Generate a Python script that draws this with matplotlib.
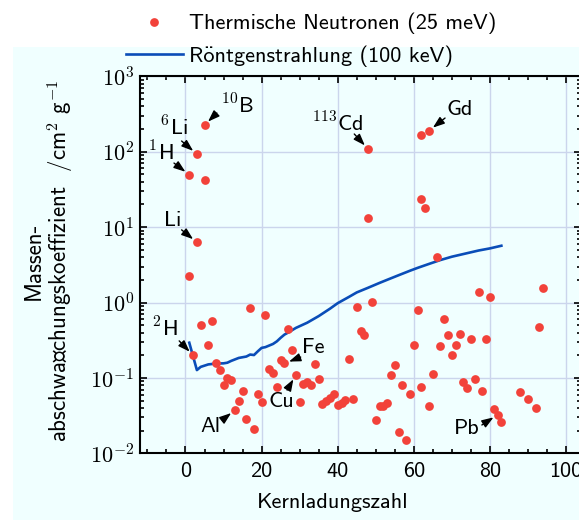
import numpy as np
import matplotlib
matplotlib.use("Agg")
import matplotlib.pyplot as plt
from matplotlib.patches import Rectangle
from matplotlib.ticker import FuncFormatter, LogLocator, MultipleLocator

plt.rcParams['font.family'] = ['cmss10', 'DejaVu Sans']
plt.rcParams['mathtext.fontset'] = 'cm'
plt.rcParams['axes.unicode_minus'] = False
plt.rcParams['axes.formatter.use_mathtext'] = True

# Thermal neutrons (25 meV): atomic number and mass attenuation coefficient (cm^2/g)
neutron_z = [1, 1, 2, 3, 3, 4, 5, 5, 6, 7, 8, 9, 10, 11, 12, 13, 14, 15, 16, 17,
             18, 19, 20, 21, 22, 23, 24, 25, 26, 27, 28, 29, 30, 31, 32, 33, 34,
             35, 36, 37, 38, 39, 40, 41, 42, 43, 44, 45, 46, 47, 48, 48, 49, 50,
             51, 52, 53, 54, 55, 56, 57, 58, 59, 60, 61, 62, 62, 62, 63, 64, 64,
             65, 66, 67, 68, 69, 70, 71, 72, 73, 74, 75, 76, 77, 78, 79, 80, 81,
             82, 83, 88, 90, 92, 93, 94]
neutron_mu = [49.5, 2.27, 0.20, 93.0, 6.3, 0.50, 226.0, 42.5, 0.275, 0.574, 0.158,
              0.126, 0.0805, 0.100, 0.093, 0.0375, 0.049, 0.067, 0.0288, 0.845,
              0.021, 0.0617, 0.048, 0.676, 0.132, 0.117, 0.076, 0.171, 0.156, 0.44,
              0.234, 0.109, 0.048, 0.082, 0.088, 0.0795, 0.151, 0.0957, 0.0455,
              0.0499, 0.0536, 0.0606, 0.0433, 0.0469, 0.0504, 0.178, 0.053, 0.863,
              0.415, 0.374, 108.6, 13.3, 1.03, 0.0277, 0.0428, 0.042, 0.0469, 0.108,
              0.147, 0.0192, 0.0798, 0.0151, 0.0606, 0.275, 0.788, 168.0, 23.6,
              0.075, 17.7, 190.0, 0.0425, 0.114, 3.98, 0.265, 0.598, 0.374, 0.201,
              0.273, 0.382, 0.0873, 0.074, 0.325, 0.0967, 1.38, 0.067, 0.325, 1.18,
              0.0383, 0.0325, 0.0258, 0.0656, 0.0525, 0.0398, 0.478, 1.54]

# X-rays (100 keV)
xray_z = [1, 3, 4, 6, 8, 10, 11, 12, 14, 16, 17, 18, 19, 20, 21, 23, 24, 25, 26,
          27, 29, 32, 35, 38, 40, 43, 45, 48, 51, 53, 56, 59, 61, 64, 67, 70, 74,
          77, 80, 83]
xray_mu = [0.293, 0.127, 0.140, 0.151, 0.155, 0.156, 0.159, 0.168, 0.184, 0.192,
           0.204, 0.201, 0.225, 0.250, 0.256, 0.282, 0.305, 0.34, 0.375, 0.40,
           0.46, 0.54, 0.66, 0.83, 0.98, 1.19, 1.36, 1.57, 1.82, 2.00, 2.30, 2.64,
           2.88, 3.25, 3.66, 4.05, 4.51, 4.89, 5.22, 5.66]

# Labelled nuclides: (text, Z, value, text offset [pt], arrow start offset [pt])
labels = [
    (r'$^{\mathsf{10}}$B', 5, 226.0, (24.0, 13.7), (8.9, 8.6)),
    (r'$^{\mathsf{6}}$Li', 3, 93.0, (-16.8, 19.4), (-11.0, 9.4)),
    (r'$^{\mathsf{1}}$H', 1, 49.5, (-20.4, 16.3), (-11.0, 8.4)),
    ('Li', 3, 6.3, (-17.1, 15.3), (-11.0, 8.9)),
    (r'$^{\mathsf{113}}$Cd', 48, 108.6, (-21.6, 18.0), (-10.0, 10.8)),
    ('Gd', 64, 190.0, (22.3, 14.9), (11.5, 9.1)),
    (r'$^{\mathsf{2}}$H', 2, 0.20, (-20.2, 18.9), (-10.0, 10.3)),
    ('Al', 13, 0.0375, (-17.8, -12.2), (-9.1, -7.2)),
    ('Cu', 29, 0.109, (-10.6, -18.7), (-6.3, -10.8)),
    ('Fe', 26, 0.156, (21.1, 11.7), (11.7, 4.5)),
    ('Pb', 82, 0.0325, (-22.1, -9.6), (-11.3, -7.4)),
]

# Umlauts written as base letter + combining diaeresis (the sans face lacks ä/ö)
A_UML = 'a\u0308'
O_UML = 'o\u0308'

W, H = 579, 522
fig = plt.figure(figsize=(W / 100, H / 100), dpi=100, facecolor='white')
fig.add_artist(Rectangle((13 / W, 2 / H), 1 - 13 / W, (H - 47 - 2) / H,
                         transform=fig.transFigure, facecolor='#f0ffff',
                         edgecolor='none', zorder=-5))

ax = fig.add_axes([139.8 / W, (H - 453.3) / H, (581.3 - 139.8) / W, (453.3 - 76.3) / H])
ax.set_facecolor('none')

ax.plot(neutron_z, neutron_mu, 'o', color='#f2423a', markersize=6.3,
        markeredgewidth=0, linestyle='none', label='Thermische Neutronen (25 meV)',
        zorder=3)
ax.plot(xray_z, xray_mu, '-', color='#0a4db8', linewidth=1.9,
        label='R' + O_UML + 'ntgenstrahlung (100 keV)', zorder=2)

ax.set_yscale('log')
ax.set_xlim(-12, 104)
ax.set_ylim(1e-2, 1e3)

ax.xaxis.set_major_locator(MultipleLocator(20))
ax.xaxis.set_minor_locator(MultipleLocator(5))
ax.yaxis.set_major_locator(LogLocator(base=10, numticks=10))
ax.yaxis.set_minor_locator(LogLocator(base=10, subs=np.arange(2, 10), numticks=20))
ax.yaxis.set_major_formatter(FuncFormatter(lambda v, p: r'$\mathsf{10^{%d}}$' % round(np.log10(v))))
ax.xaxis.set_major_formatter(FuncFormatter(lambda v, p: '%d' % v))

ax.grid(True, which='major', color='#cbd5ec', linewidth=1.0, zorder=0)
ax.set_axisbelow(True)
for s in ax.spines.values():
    s.set_linewidth(1.5)
ax.tick_params(which='both', direction='in', top=True, right=True, labelsize=16,
               width=1.2)
ax.tick_params(which='major', length=5)
ax.tick_params(which='minor', length=3)
ax.tick_params(axis='x', pad=6)
ax.tick_params(axis='y', pad=4)

for text, z, v, toff, aoff in labels:
    ax.annotate(text, xy=(z, v), xytext=toff, textcoords='offset points',
                ha='center', va='center', fontsize=16, zorder=4)
    ax.annotate('', xy=(z, v), xytext=aoff, textcoords='offset points',
                arrowprops=dict(arrowstyle='-|>,head_length=0.7,head_width=0.25',
                                color='black', lw=1.0, shrinkA=0, shrinkB=3.5,
                                mutation_scale=10), zorder=4)

fig.text(49.0 / W, 1 - 260.5 / H,
         'Massen-\nabschw' + A_UML + 'chungskoeffizient  /cm$^{\\mathsf{2}}$ g$^{\\mathsf{-1}}$',
         rotation=90, ha='center', va='center', multialignment='center',
         fontsize=16.5, linespacing=1.05)
fig.text(332.5 / W, 1 - 503 / H, 'Kernladungszahl', ha='center', va='center',
         fontsize=16)

fig.legend(loc='center left', bbox_to_anchor=(126 / W, 1 - 40 / H),
           frameon=False, fontsize=16, handlelength=2.55, handletextpad=0.3,
           borderpad=0, borderaxespad=0, labelspacing=0.5)

fig.savefig('out.png', dpi=100)
